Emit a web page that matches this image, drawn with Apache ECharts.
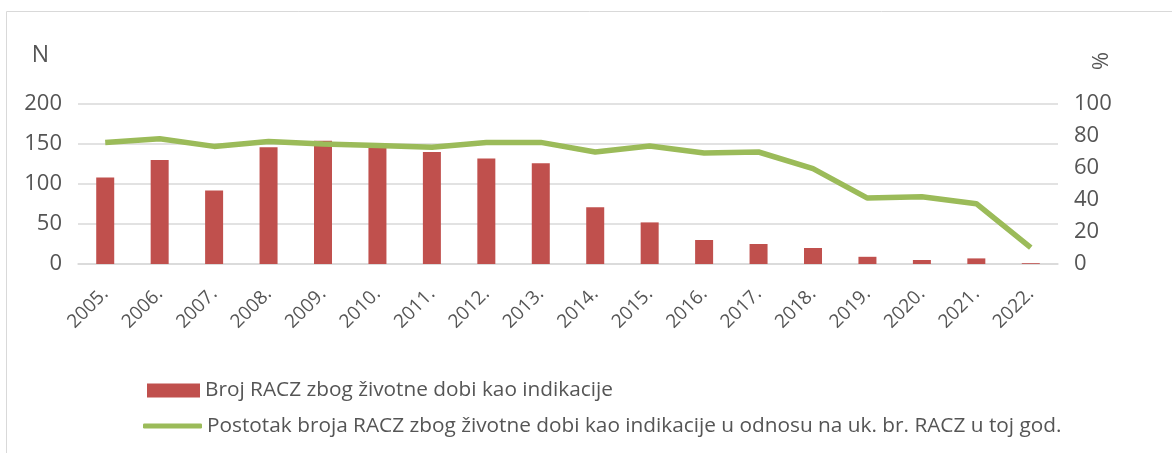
<!DOCTYPE html>
<html>
<head>
<meta charset="utf-8">
<script src="https://cdn.jsdelivr.net/npm/echarts@6/dist/echarts.min.js"></script>
<style>
html,body{margin:0;padding:0;background:#fff;}
#c{width:1172px;height:453px;}
</style>
</head>
<body>
<div id="c"></div>
<script>
const years = ['2005.','2006.','2007.','2008.','2009.','2010.','2011.','2012.','2013.','2014.','2015.','2016.','2017.','2018.','2019.','2020.','2021.','2022.'];
const counts = [108,130,92,146,154,145,140,132,126,71,52,30,25,20,9,5,7,1];
const percents = [76,78.3,73.5,76.6,75,74,73,76,76,70,73.7,69.4,70,59.6,41.2,42,37.7,10.2];
const leftTicks = {min:0, max:200, interval:50};
const rightTicks = {min:0, max:100, interval:20};
const barName = 'Broj RACZ zbog životne dobi kao indikacije';
const lineName = 'Postotak broja RACZ zbog životne dobi kao indikacije u odnosu na uk. br. RACZ u toj god.';

const FONT = 'Open Sans';
const TXT = '#555555';
const chart = echarts.init(document.getElementById('c'), null, {renderer:'canvas'});
chart.setOption({
  animation:false,
  textStyle:{fontFamily:FONT},
  graphic:[
    {type:'rect', shape:{x:6.5,y:11.5,width:1200,height:460}, style:{fill:'none', stroke:'#d9d9d9', lineWidth:1}},
    {type:'text', x:40.5, y:55, style:{text:'N', font:'23px '+FONT, fill:TXT, align:'center', verticalAlign:'middle'}},
    {type:'text', x:1098.5, y:61, rotation:-Math.PI/2, style:{text:'%', font:'22px '+FONT, fill:TXT, align:'center', verticalAlign:'middle'}}
  ],
  grid:{left:78, right:114, top:104, bottom:189},
  legend:[
    {
      left:142, top:373.5, itemWidth:53, itemHeight:14,
      textStyle:{fontSize:20.8, lineHeight:24, color:TXT, fontFamily:FONT},
      data:[{name:barName, icon:'rect'}]
    },
    {
      left:138, top:409, itemWidth:59, itemHeight:5,
      textStyle:{fontSize:20.8, lineHeight:24, color:TXT, fontFamily:FONT},
      data:[{name:lineName, icon:'roundRect'}]
    }
  ],
  xAxis:{
    type:'category', data:years,
    axisTick:{show:false},
    axisLine:{lineStyle:{color:'#d9d9d9', width:1.5}},
    axisLabel:{rotate:45, fontSize:19, color:TXT, margin:27, interval:0}
  },
  yAxis:[
    {type:'value', min:leftTicks.min, max:leftTicks.max, interval:leftTicks.interval,
     axisLine:{show:false}, axisTick:{show:false},
     splitLine:{lineStyle:{color:'#d9d9d9', width:1.5}},
     axisLabel:{fontSize:22, color:TXT, margin:16}},
    {type:'value', min:rightTicks.min, max:rightTicks.max, interval:rightTicks.interval,
     axisLine:{show:false}, axisTick:{show:false}, splitLine:{show:false},
     axisLabel:{fontSize:22, color:TXT, margin:16}}
  ],
  series:[
    {name:barName, type:'bar', data:counts, barWidth:18, itemStyle:{color:'#C0504D'}, yAxisIndex:0},
    {name:lineName, type:'line', data:percents, yAxisIndex:1, symbol:'none', showSymbol:false,
     lineStyle:{color:'#9BBB59', width:5.5}, itemStyle:{color:'#9BBB59'}}
  ]
});
</script>
</body>
</html>
